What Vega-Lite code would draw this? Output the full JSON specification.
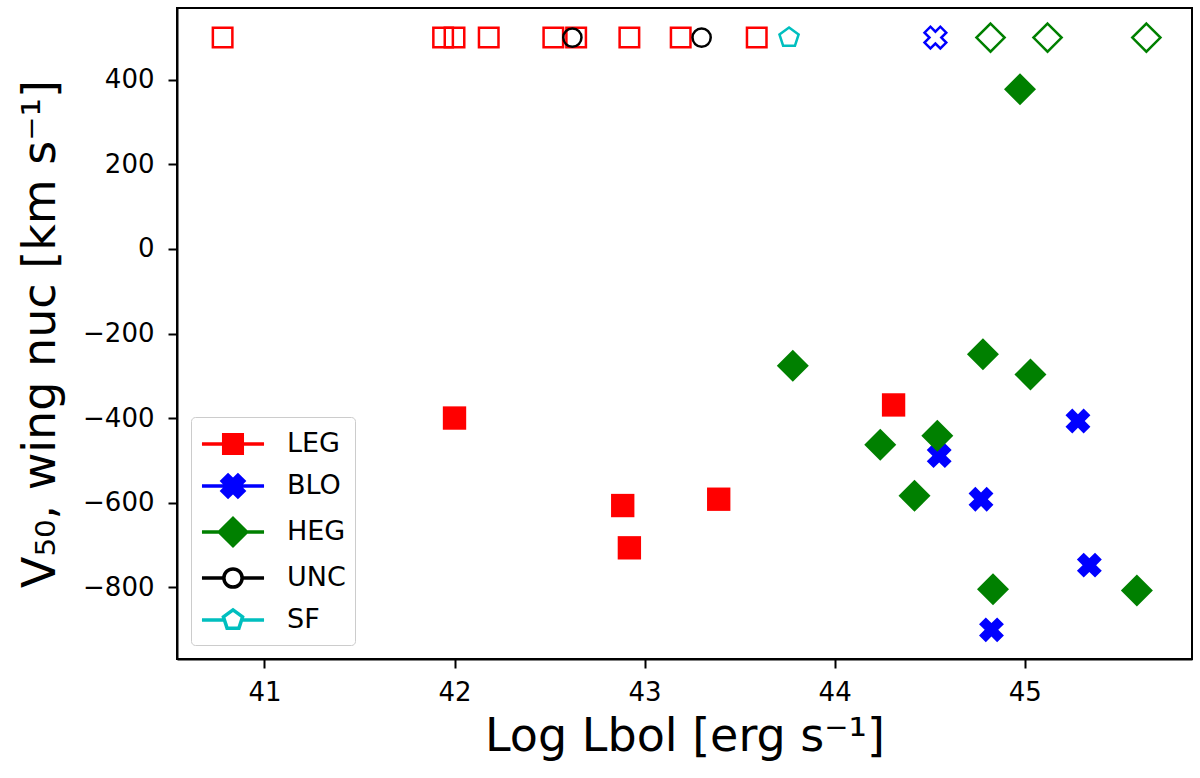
{
  "$schema": "https://vega.github.io/schema/vega-lite/v6.json",
  "autosize": {"type": "none"},
  "width": 1015,
  "height": 651,
  "padding": {"left": 177, "top": 8, "right": 8, "bottom": 119},
  "background": "white",
  "data": {
    "values": [
      {"lbol": 42.00, "v50": -400, "cls": "LEG", "limit": false},
      {"lbol": 42.885, "v50": -607, "cls": "LEG", "limit": false},
      {"lbol": 42.92, "v50": -707, "cls": "LEG", "limit": false},
      {"lbol": 43.39, "v50": -592, "cls": "LEG", "limit": false},
      {"lbol": 44.31, "v50": -369, "cls": "LEG", "limit": false},
      {"lbol": 44.55, "v50": -489, "cls": "BLO", "limit": false},
      {"lbol": 44.77, "v50": -592, "cls": "BLO", "limit": false},
      {"lbol": 45.28, "v50": -407, "cls": "BLO", "limit": false},
      {"lbol": 45.34, "v50": -748, "cls": "BLO", "limit": false},
      {"lbol": 44.825, "v50": -901, "cls": "BLO", "limit": false},
      {"lbol": 44.975, "v50": 378, "cls": "HEG", "limit": false},
      {"lbol": 43.78, "v50": -276, "cls": "HEG", "limit": false},
      {"lbol": 44.78, "v50": -249, "cls": "HEG", "limit": false},
      {"lbol": 45.03, "v50": -297, "cls": "HEG", "limit": false},
      {"lbol": 44.24, "v50": -463, "cls": "HEG", "limit": false},
      {"lbol": 44.54, "v50": -442, "cls": "HEG", "limit": false},
      {"lbol": 44.42, "v50": -584, "cls": "HEG", "limit": false},
      {"lbol": 44.833, "v50": -805, "cls": "HEG", "limit": false},
      {"lbol": 45.59, "v50": -808, "cls": "HEG", "limit": false},
      {"lbol": 40.78, "v50": 500, "cls": "LEG", "limit": true},
      {"lbol": 41.94, "v50": 500, "cls": "LEG", "limit": true},
      {"lbol": 42.00, "v50": 500, "cls": "LEG", "limit": true},
      {"lbol": 42.18, "v50": 500, "cls": "LEG", "limit": true},
      {"lbol": 42.52, "v50": 500, "cls": "LEG", "limit": true},
      {"lbol": 42.64, "v50": 500, "cls": "LEG", "limit": true},
      {"lbol": 42.92, "v50": 500, "cls": "LEG", "limit": true},
      {"lbol": 43.19, "v50": 500, "cls": "LEG", "limit": true},
      {"lbol": 43.59, "v50": 500, "cls": "LEG", "limit": true},
      {"lbol": 44.53, "v50": 500, "cls": "BLO", "limit": true},
      {"lbol": 44.82, "v50": 500, "cls": "HEG", "limit": true},
      {"lbol": 45.12, "v50": 500, "cls": "HEG", "limit": true},
      {"lbol": 45.64, "v50": 500, "cls": "HEG", "limit": true},
      {"lbol": 42.62, "v50": 500, "cls": "UNC", "limit": true},
      {"lbol": 43.30, "v50": 500, "cls": "UNC", "limit": true},
      {"lbol": 43.76, "v50": 500, "cls": "SF", "limit": true}
    ]
  },
  "layer": [
    {
      "transform": [{"filter": "!datum.limit"}],
      "mark": {"type": "point", "filled": true, "size": 1024, "opacity": 1},
      "encoding": {
        "x": {
          "field": "lbol",
          "type": "quantitative",
          "scale": {"domain": [40.54, 45.88], "zero": false, "nice": false},
          "axis": {"title": "Log Lbol [erg s⁻¹]", "values": [41, 42, 43, 44, 45], "format": "d", "labelPadding": 11, "titlePadding": 9}
        },
        "y": {
          "field": "v50",
          "type": "quantitative",
          "scale": {"domain": [-970, 570], "zero": false, "nice": false},
          "axis": {"title": "V₅₀, wing nuc [km s⁻¹]", "values": [-800, -600, -400, -200, 0, 200, 400], "labelPadding": 14, "titlePadding": 18}
        },
        "color": {
          "field": "cls",
          "type": "nominal",
          "scale": {
            "domain": ["LEG", "BLO", "HEG", "UNC", "SF"],
            "range": ["#FF0000", "#0000FF", "#008000", "#000000", "#00BFBF"]
          },
          "legend": null
        },
        "shape": {
          "field": "cls",
          "type": "nominal",
          "scale": {
            "domain": ["LEG", "BLO", "HEG", "UNC", "SF"],
            "range": [
              "M-0.73,-0.73H0.73V0.73H-0.73Z",
              "M-0.354,0.778L0,0.424L0.354,0.778L0.778,0.354L0.424,0L0.778,-0.354L0.354,-0.778L0,-0.424L-0.354,-0.778L-0.778,-0.354L-0.424,0L-0.778,0.354Z",
              "M0,-1L1,0L0,1L-1,0Z",
              "M0.6,0A0.6,0.6,0,1,1,-0.6,0A0.6,0.6,0,1,1,0.6,0Z",
              "M0,-0.68L0.647,-0.21L0.4,0.55L-0.4,0.55L-0.647,-0.21Z"
            ]
          },
          "legend": null
        }
      }
    },
    {
      "transform": [{"filter": "datum.limit"}],
      "mark": {"type": "point", "filled": false, "size": 1024, "opacity": 1, "strokeWidth": 2.5},
      "encoding": {
        "x": {"field": "lbol", "type": "quantitative"},
        "y": {"field": "v50", "type": "quantitative"},
        "color": {
          "field": "cls",
          "type": "nominal",
          "scale": {
            "domain": ["LEG", "BLO", "HEG", "UNC", "SF"],
            "range": ["#FF0000", "#0000FF", "#008000", "#000000", "#00BFBF"]
          },
          "legend": null
        },
        "shape": {
          "field": "cls",
          "type": "nominal",
          "scale": {
            "domain": ["LEG", "BLO", "HEG", "UNC", "SF"],
            "range": [
              "M-0.61,-0.61H0.61V0.61H-0.61Z",
              "M-0.309,0.68L0,0.371L0.309,0.68L0.68,0.309L0.371,0L0.68,-0.309L0.309,-0.68L0,-0.371L-0.309,-0.68L-0.68,-0.309L-0.371,0L-0.68,0.309Z",
              "M0,-0.88L0.88,0L0,0.88L-0.88,0Z",
              "M0.57,0A0.57,0.57,0,1,1,-0.57,0A0.57,0.57,0,1,1,0.57,0Z",
              "M0,-0.63L0.599,-0.195L0.37,0.51L-0.37,0.51L-0.599,-0.195Z"
            ]
          },
          "legend": null
        }
      }
    },
    {
      "transform": [{"filter": "false"}],
      "mark": {"type": "point", "size": 1024, "opacity": 1, "strokeWidth": 3.5},
      "encoding": {
        "shape": {
          "field": "cls",
          "type": "nominal",
          "scale": {
            "domain": ["LEG", "BLO", "HEG", "UNC", "SF"],
            "range": [
              "M-1.94,0H1.94M-0.58,-0.58H0.58V0.58H-0.58Z",
              "M-1.94,0H1.94M-0.309,0.68L0,0.371L0.309,0.68L0.68,0.309L0.371,0L0.68,-0.309L0.309,-0.68L0,-0.371L-0.309,-0.68L-0.68,-0.309L-0.371,0L-0.68,0.309Z",
              "M-1.94,0H1.94M0,-0.85L0.85,0L0,0.85L-0.85,0Z",
              "M-1.94,0H-0.57M0.57,0H1.94M0.57,0A0.57,0.57,0,1,1,-0.57,0A0.57,0.57,0,1,1,0.57,0Z",
              "M-1.94,0H-0.536M0.536,0H1.94M0,-0.63L0.599,-0.195L0.37,0.51L-0.37,0.51L-0.599,-0.195Z"
            ]
          },
          "legend": {"title": null}
        },
        "fill": {
          "field": "cls",
          "type": "nominal",
          "scale": {
            "domain": ["LEG", "BLO", "HEG", "UNC", "SF"],
            "range": ["#FF0000", "#0000FF", "#008000", "#FFFFFF", "#FFFFFF"]
          },
          "legend": {"title": null}
        },
        "stroke": {
          "field": "cls",
          "type": "nominal",
          "scale": {
            "domain": ["LEG", "BLO", "HEG", "UNC", "SF"],
            "range": ["#FF0000", "#0000FF", "#008000", "#000000", "#00BFBF"]
          },
          "legend": {"title": null}
        }
      }
    }
  ],
  "resolve": {
    "scale": {"color": "independent", "shape": "independent", "fill": "independent", "stroke": "independent"}
  },
  "config": {
    "view": {"stroke": "black", "strokeWidth": 2},
    "axis": {
      "grid": false,
      "domainColor": "black",
      "domainWidth": 2,
      "tickColor": "black",
      "tickWidth": 2,
      "tickSize": 9,
      "labelFont": "DejaVu Sans",
      "labelFontSize": 26,
      "labelColor": "black",
      "titleFont": "DejaVu Sans",
      "titleFontSize": 46,
      "titleFontWeight": "normal",
      "titleColor": "black"
    },
    "legend": {
      "orient": "bottom-left",
      "offset": 14,
      "fillColor": "white",
      "strokeColor": "#cccccc",
      "cornerRadius": 4,
      "padding": 9,
      "symbolSize": 1024,
      "symbolStrokeWidth": 3.5,
      "symbolOffset": 15,
      "labelOffset": 36,
      "labelFont": "DejaVu Sans",
      "labelFontSize": 27,
      "labelColor": "black",
      "rowPadding": 7
    }
  }
}
